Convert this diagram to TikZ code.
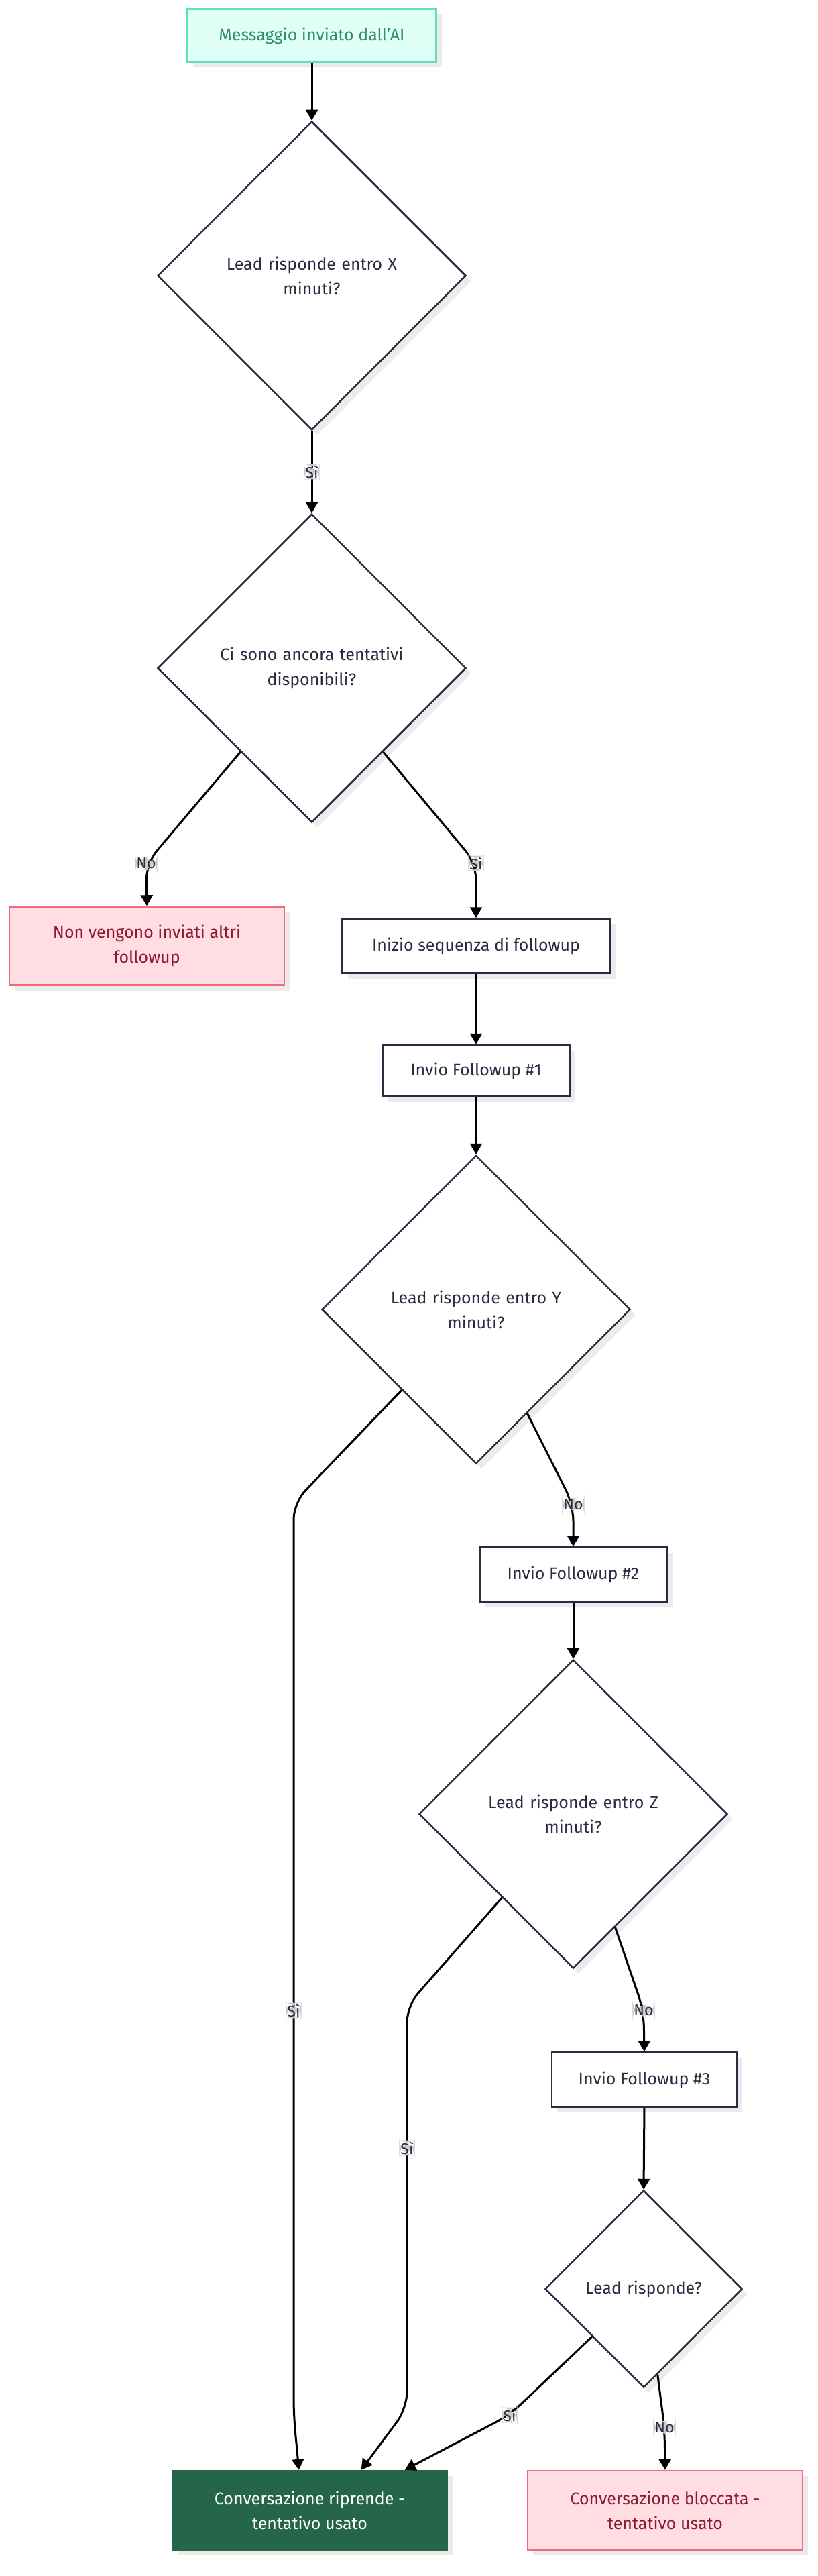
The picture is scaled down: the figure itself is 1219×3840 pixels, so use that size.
\documentclass[tikz,border=0pt]{standalone}
\usepackage{fontspec}
\setmainfont{Fira Sans}
\usetikzlibrary{shapes.geometric,arrows.meta,calc,shadows}
\definecolor{ink}{HTML}{2A2A40}
\definecolor{tealF}{HTML}{E0FFF6}
\definecolor{tealD}{HTML}{5EE0C0}
\definecolor{tealT}{HTML}{2E8B6E}
\definecolor{redF}{HTML}{FFDDE3}
\definecolor{redD}{HTML}{F06A80}
\definecolor{redT}{HTML}{8B1A30}
\definecolor{grn}{HTML}{25654A}
\begin{document}
\begin{tikzpicture}[x=1pt,y=-1pt,
  font=\fontsize{25}{37}\selectfont,
  shd/.style={drop shadow={shadow xshift=8pt,shadow yshift=-8pt,fill=black!8,opacity=1}},
  box/.style={draw=ink,line width=2.5pt,fill=white,inner sep=0,align=center,shd,text=ink},
  dia/.style={diamond,draw=ink,line width=2.5pt,fill=white,minimum width=460pt,minimum height=460pt,inner sep=0,aspect=1,align=center,text width=300pt,shd,text=ink},
  arr/.style={line width=3pt,-{Triangle[length=16pt,width=18pt]},rounded corners=25pt},
  lbl/.style={fill=black!20,inner sep=2pt,text=ink,font=\fontsize{23}{28}\selectfont}]
\useasboundingbox (0,0) rectangle (1219,3840);
\node[box,draw=tealD,fill=tealF,text=tealT,minimum width=371pt,minimum height=79pt] (s) at (465,53) {Messaggio inviato dall'AI};
\node[dia] (d1) at (465,411) {Lead risponde entro X\\minuti?};
\node[dia] (d2) at (465,996) {Ci sono ancora tentativi\\disponibili?};
\node[box,draw=redD,fill=redF,text=redT,minimum width=410pt,minimum height=117pt] (r1) at (219,1410) {Non vengono inviati altri\\followup};
\node[box,minimum width=399pt,minimum height=81pt] (i) at (710,1410) {Inizio sequenza di followup};
\node[box,minimum width=279pt,minimum height=76pt] (f1) at (710,1596) {Invio Followup \#1};
\node[dia] (d3) at (710,1952) {Lead risponde entro Y\\minuti?};
\node[box,minimum width=279pt,minimum height=81pt] (f2) at (855,2347) {Invio Followup \#2};
\node[dia] (d4) at (855,2704) {Lead risponde entro Z\\minuti?};
\node[box,minimum width=276pt,minimum height=81pt] (f3) at (961,3100) {Invio Followup \#3};
\node[dia,minimum width=294pt,minimum height=294pt,text width=220pt] (d5) at (960,3412) {Lead risponde?};
\node[box,draw=grn,fill=grn,text=white,minimum width=410pt,minimum height=118pt] (g) at (462,3742) {Conversazione riprende -\\tentativo usato};
\node[box,draw=redD,fill=redF,text=redT,minimum width=410pt,minimum height=118pt] (r2) at (992,3742) {Conversazione bloccata -\\tentativo usato};

\draw[arr] (s.south) -- (d1.north);
\draw[arr] (d1.south) -- (465,703) node[lbl]{Sì} -- (d2.north);
\draw[arr] ($(d2.west)!0.54!(d2.south)$) -- (218,1287) node[lbl]{No} -- (r1.north);
\draw[arr] ($(d2.east)!0.54!(d2.south)$) -- (710,1287) node[lbl]{Sì} -- (i.north);
\draw[arr] (i.south) -- (f1.north);
\draw[arr] (f1.south) -- (d3.north);
\draw[arr] ($(d3.west)!0.52!(d3.south)$) -- (438,2240) -- (438,2997) node[lbl]{Sì} -- (438,3600) -- ($(g.north west)+(190,0)$);
\draw[arr] ($(d3.east)!0.67!(d3.south)$) -- (855,2243) node[lbl]{No} -- (f2.north);
\draw[arr] (f2.south) -- (d4.north);
\draw[arr] ($(d4.west)!0.54!(d4.south)$) -- (607,2990) -- (607,3202) node[lbl]{Sì} -- (607,3590) -- ($(g.north west)+(283,0)$);
\draw[arr] ($(d4.east)!0.73!(d4.south)$) -- (960,2997) node[lbl]{No} -- (f3.north);
\draw[arr] (f3.south) -- (d5.north);
\draw[arr] ($(d5.west)!0.48!(d5.south)$) -- (760,3600) node[lbl]{Sì} -- ($(g.north west)+(348,0)$);
\draw[arr] ($(d5.east)!0.86!(d5.south)$) -- (991,3619) node[lbl]{No} -- (r2.north);
\end{tikzpicture}
\end{document}
